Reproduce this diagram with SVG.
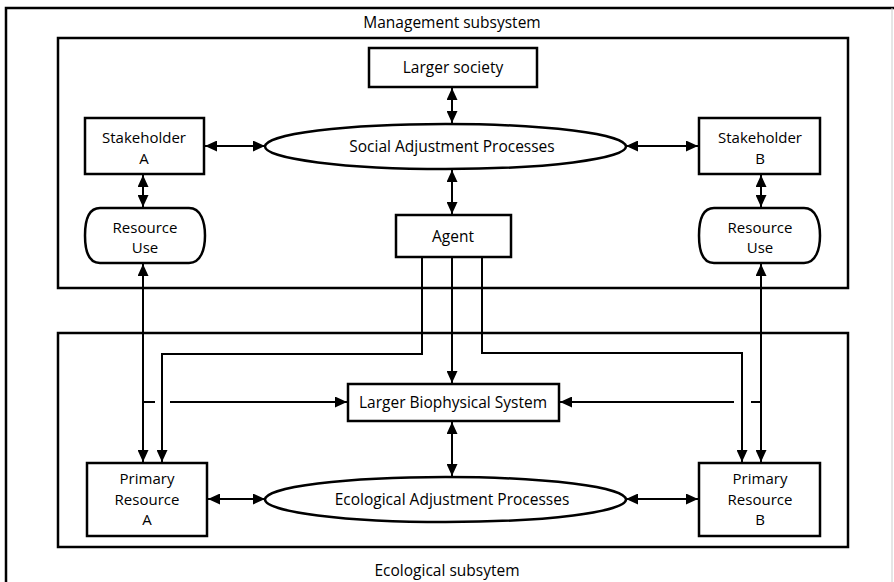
<svg xmlns="http://www.w3.org/2000/svg" width="894" height="582" viewBox="0 0 894 582">
  <style>
    .frame { fill: none; stroke: #000; stroke-width: 2.5; }
    .box { fill: #fff; stroke: #000; stroke-width: 2.5; }
    .wire { fill: none; stroke: #000; stroke-width: 2; }
    text { font-family: "Open Sans", "Liberation Sans", sans-serif; font-size: 15px; fill: #000; text-anchor: middle; }
    .lbl { font-size: 15.5px; }
  </style>
  <defs>
    <marker id="head" viewBox="0 0 12 11" refX="12" refY="5.5" markerWidth="12" markerHeight="11" markerUnits="userSpaceOnUse" orient="auto-start-reverse">
      <path d="M0,0 L12,5.5 L0,11 Z" fill="#000"/>
    </marker>
  </defs>
  <rect width="894" height="582" fill="#fff"/>

  <!-- outer frame (runs off the right and bottom) -->
  <path class="frame" d="M6,590 V8 H900"/>
  <line x1="892" y1="8" x2="892" y2="582" stroke="#ccc" stroke-width="1"/>

  <!-- subsystem containers -->
  <g id="management-subsystem">
    <rect class="frame" x="58" y="38" width="790" height="250"/>
    <text class="lbl" x="452" y="28">Management subsystem</text>
  </g>
  <g id="ecological-subsystem">
    <rect class="frame" x="58" y="333" width="790" height="214"/>
    <text class="lbl" x="447" y="576">Ecological subsytem</text>
  </g>

  <!-- connectors -->
  <g id="connectors">
    <line class="wire" x1="452" y1="88" x2="452" y2="123" marker-start="url(#head)" marker-end="url(#head)"/>
    <line class="wire" x1="452" y1="170" x2="452" y2="214" marker-start="url(#head)" marker-end="url(#head)"/>
    <line class="wire" x1="205" y1="146" x2="265" y2="146" marker-start="url(#head)" marker-end="url(#head)"/>
    <line class="wire" x1="626" y1="146" x2="698" y2="146" marker-start="url(#head)" marker-end="url(#head)"/>
    <line class="wire" x1="143" y1="175" x2="143" y2="207" marker-start="url(#head)" marker-end="url(#head)"/>
    <line class="wire" x1="761" y1="175" x2="761" y2="207" marker-start="url(#head)" marker-end="url(#head)"/>
    <!-- resource use to primary resource -->
    <line class="wire" x1="143" y1="264" x2="143" y2="462" marker-start="url(#head)" marker-end="url(#head)"/>
    <line class="wire" x1="761" y1="264" x2="761" y2="462" marker-start="url(#head)" marker-end="url(#head)"/>
    <!-- agent outputs -->
    <polyline class="wire" points="422,258 422,354 162,354 162,462" marker-end="url(#head)"/>
    <line class="wire" x1="452" y1="258" x2="452" y2="383" marker-end="url(#head)"/>
    <polyline class="wire" points="482,258 482,353 742,353 742,462" marker-end="url(#head)"/>
    <!-- branches into the biophysical system, hopping the agent lines -->
    <line class="wire" x1="143" y1="402" x2="155" y2="402"/>
    <line class="wire" x1="170" y1="402" x2="347" y2="402" marker-end="url(#head)"/>
    <line class="wire" x1="761" y1="402" x2="751" y2="402"/>
    <line class="wire" x1="734" y1="402" x2="560" y2="402" marker-end="url(#head)"/>
    <line class="wire" x1="452" y1="422" x2="452" y2="476" marker-start="url(#head)" marker-end="url(#head)"/>
    <line class="wire" x1="208" y1="499" x2="265" y2="499" marker-start="url(#head)" marker-end="url(#head)"/>
    <line class="wire" x1="626" y1="499" x2="698" y2="499" marker-start="url(#head)" marker-end="url(#head)"/>
  </g>

  <!-- management nodes -->
  <g id="larger-society">
    <rect class="box" x="369" y="48" width="168" height="39"/>
    <text class="lbl" x="453" y="73">Larger society</text>
  </g>
  <g id="social-adjustment">
    <ellipse class="box" cx="445.5" cy="146.5" rx="180.5" ry="22.5"/>
    <text class="lbl" x="452" y="152">Social Adjustment Processes</text>
  </g>
  <g id="stakeholder-a">
    <rect class="box" x="85" y="118" width="119" height="56"/>
    <text x="144" y="143">Stakeholder</text>
    <text x="144" y="163.5">A</text>
  </g>
  <g id="stakeholder-b">
    <rect class="box" x="699" y="118" width="121" height="56"/>
    <text x="760" y="143">Stakeholder</text>
    <text x="760" y="163.5">B</text>
  </g>
  <g id="resource-use-a">
    <path class="box" d="M100,208 H189 C201,208 205,222 205,235.5 C205,249 201,263 189,263 H100 C88,263 85,249 85,235.5 C85,222 88,208 100,208 Z"/>
    <text x="145" y="232.5">Resource</text>
    <text x="145" y="253">Use</text>
  </g>
  <g id="resource-use-b">
    <path class="box" d="M714,208 H804 C816,208 820,222 820,235.5 C820,249 816,263 804,263 H714 C702,263 699,249 699,235.5 C699,222 702,208 714,208 Z"/>
    <text x="760" y="232.5">Resource</text>
    <text x="760" y="253">Use</text>
  </g>
  <g id="agent">
    <rect class="box" x="396" y="215" width="115" height="42"/>
    <text class="lbl" x="453" y="242">Agent</text>
  </g>

  <!-- ecological nodes -->
  <g id="larger-biophysical">
    <rect class="box" x="348" y="384" width="211" height="37"/>
    <text class="lbl" x="453" y="408">Larger Biophysical System</text>
  </g>
  <g id="ecological-adjustment">
    <ellipse class="box" cx="445.5" cy="499.5" rx="180.5" ry="22.5"/>
    <text class="lbl" x="452" y="505">Ecological Adjustment Processes</text>
  </g>
  <g id="primary-resource-a">
    <rect class="box" x="87" y="463" width="120" height="73"/>
    <text x="147" y="484">Primary</text>
    <text x="147" y="504.5">Resource</text>
    <text x="147" y="525">A</text>
  </g>
  <g id="primary-resource-b">
    <rect class="box" x="699" y="463" width="121" height="73"/>
    <text x="760" y="484">Primary</text>
    <text x="760" y="504.5">Resource</text>
    <text x="760" y="525">B</text>
  </g>
</svg>
